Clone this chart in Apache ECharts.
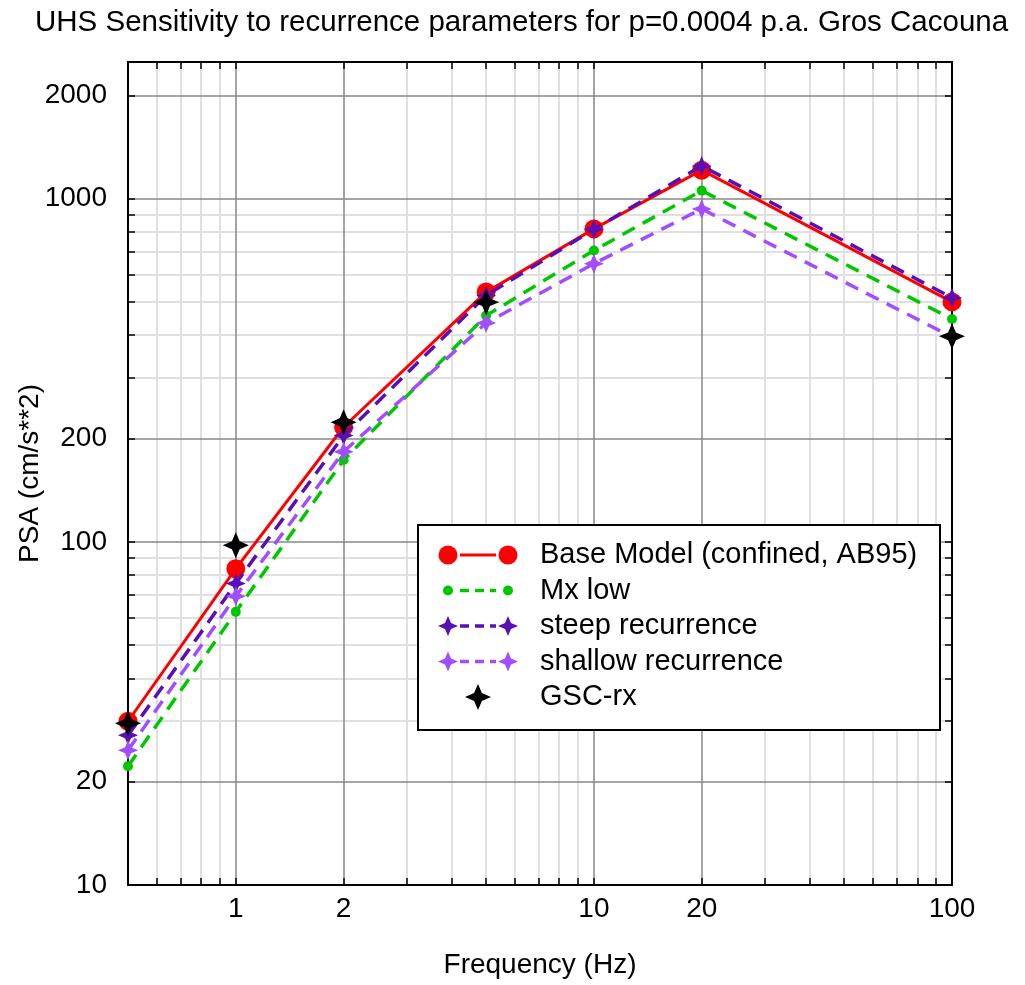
<!DOCTYPE html>
<html>
<head>
<meta charset="utf-8">
<script src="https://cdn.jsdelivr.net/npm/echarts@6/dist/echarts.min.js"></script>
<style>
  html, body { margin: 0; padding: 0; background: #ffffff; }
  #chart { width: 1025px; height: 985px; }
</style>
</head>
<body>
<div id="chart"></div>
<script>
// Uniform hazard spectra, PSA (cm/s**2) against frequency (Hz)
const frequencies       = [0.5, 1, 2, 5, 10, 20, 100];
const baseModel         = [30, 83.5, 216, 534, 816, 1210, 500];
const mxLow             = [22.2, 62.5, 173, 456, 706, 1055, 446];
const steepRecurrence   = [27.3, 75.6, 204, 522, 814, 1245, 514];
const shallowRecurrence = [24.7, 69.4, 183, 434, 646, 933, 395];
const gscRx             = [29.6, 97.7, 223, 499, null, null, 397];

// Tick values on the two log axes
const xMajorTicks = [1, 2, 10, 20, 100];
const xMinorTicks = [0.6, 0.7, 0.8, 0.9, 3, 4, 5, 6, 7, 8, 9, 30, 40, 50, 60, 70, 80, 90];
const yMajorTicks = [10, 20, 100, 200, 1000, 2000];
const yMinorTicks = [30, 40, 50, 60, 70, 80, 90, 300, 400, 500, 600, 700, 800, 900];

const seriesNames = ['Base Model (confined, AB95)', 'Mx low', 'steep recurrence', 'shallow recurrence', 'GSC-rx'];

const STAR = 'M0,-10L3,-3L10,0L3,3L0,10L-3,3L-10,0L-3,-3Z';
const FONT = 'Liberation Sans, Arial, sans-serif';

const styles = [
  { color: '#ff0000', symbol: 'circle', size: 19, dash: 'solid', width: 3, line: true },
  { color: '#00c800', symbol: 'circle', size: 10, dash: [14, 9], width: 3.5, line: true },
  { color: '#5a0fb4', symbol: 'star', size: 20, dash: [14, 9], width: 3.5, line: true },
  { color: '#a24dff', symbol: 'star', size: 20, dash: [14, 9], width: 3.5, line: true },
  { color: '#000000', symbol: 'star', size: 26, dash: 'solid', width: 0, line: false }
];
const values = [baseModel, mxLow, steepRecurrence, shallowRecurrence, gscRx];

function pairs(ys) {
  return frequencies.map((f, i) => [f, ys[i]]);
}

// four-pointed star as polygon points around a centre
function starPoints(cx, cy, s) {
  const r = s / 2, q = r * 0.3;
  return [[cx, cy - r], [cx + q, cy - q], [cx + r, cy], [cx + q, cy + q],
          [cx, cy + r], [cx - q, cy + q], [cx - r, cy], [cx - q, cy - q]];
}

const MIN_X = 0.5, MAX_X = 100, MIN_Y = 10, MAX_Y = 2500;
const frameLine = { show: true, onZero: false, lineStyle: { color: '#000', width: 2 } };

function logAxis(extra, min, max) {
  return Object.assign({
    type: 'log', logBase: 10, min: min, max: max,
    axisLine: frameLine,
    axisLabel: { show: false },
    splitLine: { show: false },
    minorTick: { show: false },
    minorSplitLine: { show: false }
  }, extra);
}

const xAxes = [
  logAxis({
    position: 'bottom', z: 2,
    axisTick: { show: true, inside: true, length: 7, customValues: xMajorTicks, lineStyle: { color: '#000', width: 1.5 } },
    axisLabel: { show: true, customValues: xMajorTicks, formatter: v => String(v), color: '#000', fontSize: 28, fontFamily: FONT, margin: 10 },
    splitLine: { show: true, lineStyle: { color: '#878787', width: 1.5 } },
    name: 'Frequency (Hz)', nameLocation: 'middle', nameGap: 66,
    nameTextStyle: { color: '#000', fontSize: 28, fontFamily: FONT }
  }, MIN_X, MAX_X),
  logAxis({
    position: 'bottom', z: 1,
    axisTick: { show: true, inside: true, length: 7, customValues: xMinorTicks, lineStyle: { color: '#000', width: 1.5 } },
    splitLine: { show: true, lineStyle: { color: '#e0e0e0', width: 2 } }
  }, MIN_X, MAX_X),
  logAxis({
    position: 'top', z: 2,
    axisTick: { show: true, inside: true, length: 7, customValues: xMajorTicks.concat(xMinorTicks), lineStyle: { color: '#000', width: 1.5 } }
  }, MIN_X, MAX_X)
];

const yAxes = [
  logAxis({
    position: 'left', z: 2,
    axisTick: { show: true, inside: true, length: 7, customValues: yMajorTicks, lineStyle: { color: '#000', width: 1.5 } },
    axisLabel: { show: true, customValues: yMajorTicks, formatter: v => String(v), color: '#000', fontSize: 28, fontFamily: FONT, margin: 21 },
    splitLine: { show: true, lineStyle: { color: '#878787', width: 1.5 } },
    name: 'PSA (cm/s**2)', nameLocation: 'middle', nameGap: 84, nameRotate: 90, nameMoveOverlap: false,
    nameTextStyle: { color: '#000', fontSize: 28, fontFamily: FONT }
  }, MIN_Y, MAX_Y),
  logAxis({
    position: 'left', z: 1,
    axisTick: { show: true, inside: true, length: 7, customValues: yMinorTicks, lineStyle: { color: '#000', width: 1.5 } },
    splitLine: { show: true, lineStyle: { color: '#e0e0e0', width: 2 } }
  }, MIN_Y, MAX_Y),
  logAxis({
    position: 'right', z: 2,
    axisTick: { show: true, inside: true, length: 7, customValues: yMajorTicks.concat(yMinorTicks), lineStyle: { color: '#000', width: 1.5 } }
  }, MIN_Y, MAX_Y)
];

const series = values.map((ys, i) => {
  const st = styles[i];
  return {
    name: seriesNames[i],
    type: st.line ? 'line' : 'scatter',
    xAxisIndex: 0, yAxisIndex: 0,
    data: pairs(ys),
    symbol: st.symbol === 'star' ? 'path://' + STAR : 'circle',
    symbolSize: st.size,
    showSymbol: true,
    connectNulls: false,
    itemStyle: { color: st.color, opacity: 1 },
    lineStyle: st.line ? { color: st.color, width: st.width, type: st.dash } : undefined,
    emphasis: { disabled: true },
    animation: false,
    z: 3 + i
  };
});

// Legend box drawn from the series names and styles
const LEG = { x: 418, y: 525, w: 522, h: 205, row0: 555, rowStep: 35.5, x1: 448, x2: 508, tx: 540 };
const legendGraphics = [{
  type: 'rect', z: 50,
  shape: { x: LEG.x, y: LEG.y, width: LEG.w, height: LEG.h },
  style: { fill: '#fff', stroke: '#000', lineWidth: 2 }
}];
seriesNames.forEach((name, i) => {
  const st = styles[i];
  const cy = LEG.row0 + i * LEG.rowStep;
  if (st.line) {
    legendGraphics.push({
      type: 'line', z: 51,
      shape: { x1: LEG.x1 + 12, y1: cy, x2: LEG.x2 - 12, y2: cy },
      style: { stroke: st.color, lineWidth: st.width, lineDash: st.dash === 'solid' ? null : [9, 6] }
    });
  }
  const ends = st.line ? [LEG.x1, LEG.x2] : [(LEG.x1 + LEG.x2) / 2];
  ends.forEach(cx => {
    if (st.symbol === 'circle') {
      legendGraphics.push({ type: 'circle', z: 52, shape: { cx: cx, cy: cy, r: st.size / 2 }, style: { fill: st.color } });
    } else {
      legendGraphics.push({ type: 'polygon', z: 52, shape: { points: starPoints(cx, cy, st.size) }, style: { fill: st.color } });
    }
  });
  legendGraphics.push({
    type: 'text', z: 52, x: LEG.tx, y: cy,
    style: { text: name, fill: '#000', fontSize: 29, fontFamily: FONT, verticalAlign: 'middle', align: 'left' }
  });
});

const chart = echarts.init(document.getElementById('chart'), null, { renderer: 'canvas' });
chart.setOption({
  animation: false,
  backgroundColor: '#ffffff',
  title: {
    text: 'UHS Sensitivity to recurrence parameters for p=0.0004 p.a. Gros Cacouna',
    left: 30, top: 3,
    textStyle: { color: '#000', fontSize: 29.5, fontWeight: 'normal', fontFamily: FONT }
  },
  grid: { left: 128, right: 73, top: 62, bottom: 100, containLabel: false },
  xAxis: xAxes,
  yAxis: yAxes,
  series: series,
  graphic: legendGraphics
});
</script>
</body>
</html>
